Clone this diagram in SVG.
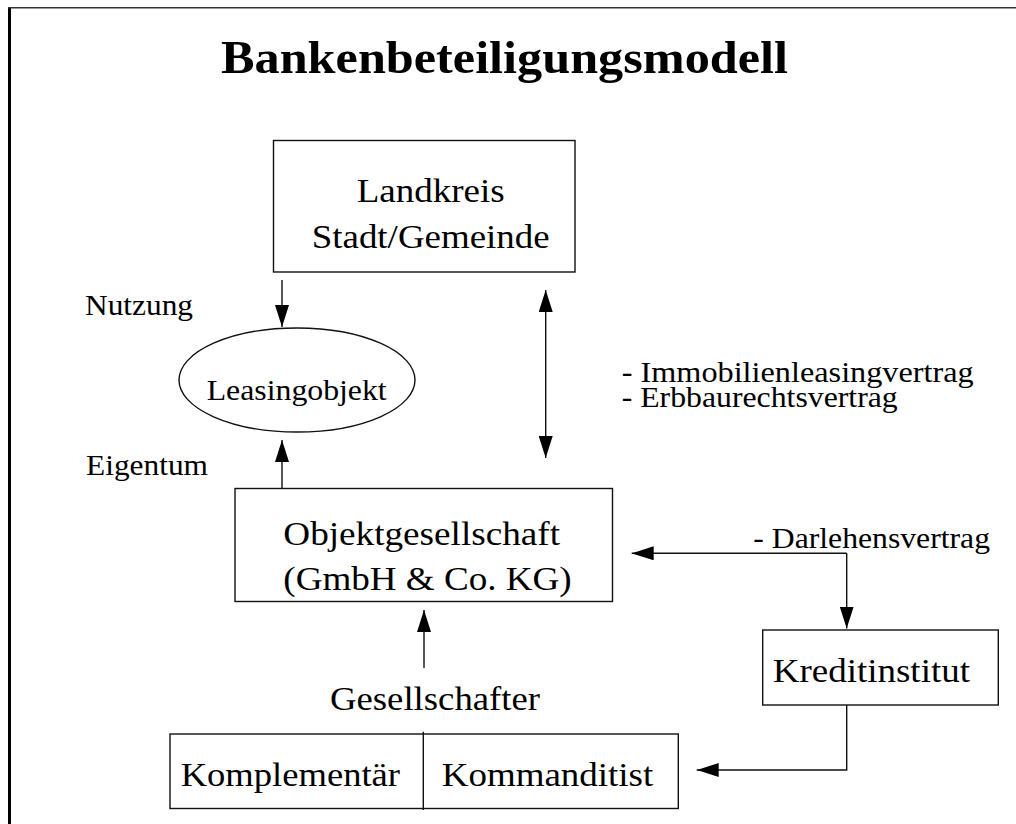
<svg xmlns="http://www.w3.org/2000/svg" width="1016" height="824" viewBox="0 0 1016 824">
<style>
.t{font-family:"Liberation Serif","Times New Roman",serif;fill:#000}
.big{font-size:33px}
.sm{font-size:30px}
.box{fill:#fff;stroke:#111;stroke-width:1.4}
.ln{fill:none;stroke:#111;stroke-width:1.4}
</style>
<defs>
<marker id="ah" markerUnits="userSpaceOnUse" markerWidth="22" markerHeight="14" refX="22" refY="7" orient="auto-start-reverse" viewBox="0 0 22 14">
<path d="M0,0 L22,7 L0,14 z" fill="#000"/>
</marker>
</defs>
<rect width="1016" height="824" fill="#fff"/>
<g id="frame">
<line x1="9.5" y1="7" x2="9.5" y2="824" stroke="#000" stroke-width="3"/>
<line x1="8" y1="7.8" x2="1016" y2="7.8" stroke="#333" stroke-width="1.6"/>
</g>
<g id="title">
<text class="t" x="221" y="73" font-size="47" font-weight="bold" textLength="567" lengthAdjust="spacingAndGlyphs">Bankenbeteiligungsmodell</text>
</g>
<g id="connectors">
<line class="ln" x1="282" y1="280" x2="282" y2="327" marker-end="url(#ah)"/>
<line class="ln" x1="545.7" y1="290" x2="545.7" y2="458" marker-start="url(#ah)" marker-end="url(#ah)"/>
<line class="ln" x1="282" y1="488.5" x2="282" y2="440" marker-end="url(#ah)"/>
<line class="ln" x1="424" y1="668" x2="424" y2="610" marker-end="url(#ah)"/>
<line class="ln" x1="846.7" y1="553.3" x2="631.7" y2="553.3" marker-end="url(#ah)"/>
<line class="ln" x1="846.7" y1="553.3" x2="846.7" y2="628.5" marker-end="url(#ah)"/>
<polyline class="ln" points="846.7,705 846.7,770 696.7,770" marker-end="url(#ah)"/>
</g>
<g id="landkreis">
<rect class="box" x="273.5" y="140.5" width="301.5" height="131.5"/>
<text class="t big" x="356.7" y="201.7" textLength="148" lengthAdjust="spacingAndGlyphs">Landkreis</text>
<text class="t big" x="311.7" y="248.3" textLength="238" lengthAdjust="spacingAndGlyphs">Stadt/Gemeinde</text>
</g>
<g id="leasingobjekt">
<ellipse class="box" cx="297" cy="380" rx="118" ry="52"/>
<text class="t sm" x="206.7" y="400" textLength="180" lengthAdjust="spacingAndGlyphs">Leasingobjekt</text>
</g>
<g id="labels">
<text class="t sm" x="85" y="315" textLength="108" lengthAdjust="spacingAndGlyphs">Nutzung</text>
<text class="t sm" x="86" y="475" textLength="122" lengthAdjust="spacingAndGlyphs">Eigentum</text>
<text class="t sm" x="621.7" y="381.7" textLength="352" lengthAdjust="spacingAndGlyphs">- Immobilienleasingvertrag</text>
<text class="t sm" x="621.7" y="406.7" textLength="276" lengthAdjust="spacingAndGlyphs">- Erbbaurechtsvertrag</text>
<text class="t sm" x="753.3" y="548.3" textLength="236.7" lengthAdjust="spacingAndGlyphs">- Darlehensvertrag</text>
<text class="t big" x="330" y="710" textLength="210" lengthAdjust="spacingAndGlyphs">Gesellschafter</text>
</g>
<g id="objektgesellschaft">
<rect class="box" x="235" y="488.5" width="377.5" height="113"/>
<text class="t big" x="283.3" y="545" textLength="276.7" lengthAdjust="spacingAndGlyphs">Objektgesellschaft</text>
<text class="t big" x="283.3" y="590" textLength="288.4" lengthAdjust="spacingAndGlyphs">(GmbH &amp; Co. KG)</text>
</g>
<g id="kreditinstitut">
<rect class="box" x="762.7" y="630" width="235.6" height="75"/>
<text class="t big" x="772.7" y="681.7" textLength="197.3" lengthAdjust="spacingAndGlyphs">Kreditinstitut</text>
</g>
<g id="gesellschafter">
<rect class="box" x="170" y="734" width="508.3" height="74.5"/>
<line class="ln" x1="423.3" y1="731.7" x2="423.3" y2="810"/>
<text class="t big" x="180.7" y="786" textLength="219.3" lengthAdjust="spacingAndGlyphs">Komplementär</text>
<text class="t big" x="441.7" y="786" textLength="211.6" lengthAdjust="spacingAndGlyphs">Kommanditist</text>
</g>
</svg>
